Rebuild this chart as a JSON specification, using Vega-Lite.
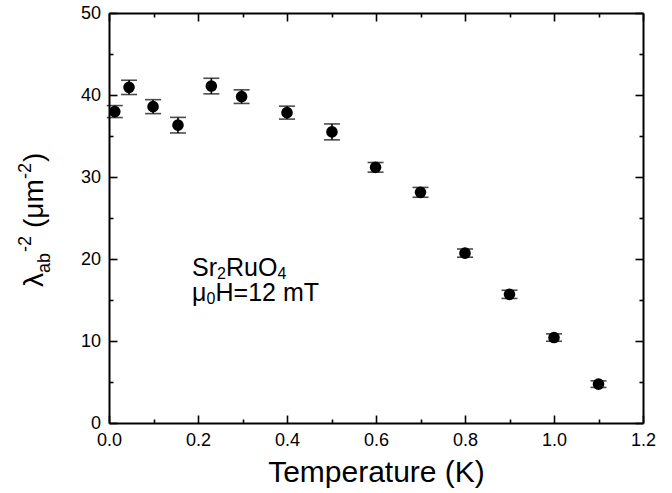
{
  "$schema": "https://vega.github.io/schema/vega-lite/v6.json",
  "width": 534,
  "height": 410,
  "autosize": {"type": "none"},
  "padding": {"left": 109, "top": 13, "right": 29, "bottom": 70},
  "background": "white",
  "config": {
    "view": {"stroke": null},
    "font": "Liberation Sans",
    "axis": {
      "domainColor": "black", "domainWidth": 2,
      "tickColor": "black", "tickWidth": 1.6,
      "labelColor": "black", "labelFont": "Liberation Sans", "labelFontSize": 18,
      "titleFont": "Liberation Sans", "titleColor": "black",
      "grid": false, "labelFlush": false, "labelOverlap": false
    }
  },
  "data": {"values": [
    {"T": 0.013, "v": 37.98, "e": 0.73},
    {"T": 0.045, "v": 40.93, "e": 0.87},
    {"T": 0.099, "v": 38.58, "e": 0.85},
    {"T": 0.155, "v": 36.32, "e": 0.95},
    {"T": 0.230, "v": 41.09, "e": 0.95},
    {"T": 0.298, "v": 39.80, "e": 0.83},
    {"T": 0.400, "v": 37.85, "e": 0.79},
    {"T": 0.501, "v": 35.50, "e": 0.97},
    {"T": 0.599, "v": 31.18, "e": 0.59},
    {"T": 0.700, "v": 28.13, "e": 0.60},
    {"T": 0.800, "v": 20.72, "e": 0.50},
    {"T": 0.900, "v": 15.69, "e": 0.50},
    {"T": 1.000, "v": 10.42, "e": 0.45},
    {"T": 1.100, "v": 4.74, "e": 0.40}
  ]},
  "layer": [
    {
      "mark": {"type": "errorbar", "color": "black", "ticks": {"size": 16, "thickness": 1.6, "color": "black"}, "rule": {"strokeWidth": 1.6}},
      "encoding": {
        "x": {"field": "T", "type": "quantitative",
          "scale": {"domain": [0, 1.2], "nice": false, "zero": false},
          "axis": {"orient": "bottom",
            "values": [0, 0.1, 0.2, 0.3, 0.4, 0.5, 0.6, 0.7, 0.8, 0.9, 1, 1.1, 1.2],
            "labelExpr": "round(datum.value*10) % 2 == 0 ? format(datum.value, '.1f') : ''",
            "tickSize": {"condition": {"test": "round(datum.value*10) % 2 == 0", "value": -8}, "value": -4},
            "labelPadding": 16,
            "title": "Temperature (K)", "titleFontSize": 30, "titleFontWeight": "normal",
            "titleBaseline": "alphabetic", "titleY": 58.7}},
        "y": {"field": "v", "type": "quantitative",
          "scale": {"domain": [0, 50], "nice": false},
          "axis": {"orient": "left",
            "values": [0, 5, 10, 15, 20, 25, 30, 35, 40, 45, 50],
            "labelExpr": "datum.value % 10 == 0 ? format(datum.value, 'd') : ''",
            "tickSize": {"condition": {"test": "datum.value % 10 == 0", "value": -8}, "value": -4},
            "labelPadding": 16.5,
            "title": null}},
        "yError": {"field": "e"}
      }
    },
    {
      "mark": {"type": "circle", "size": 135, "color": "black", "opacity": 1},
      "encoding": {
        "x": {"field": "T", "type": "quantitative",
          "axis": {"orient": "top",
            "values": [0, 0.1, 0.2, 0.3, 0.4, 0.5, 0.6, 0.7, 0.8, 0.9, 1, 1.1, 1.2],
            "labels": false, "title": null,
            "tickSize": {"condition": {"test": "round(datum.value*10) % 2 == 0", "value": -8}, "value": -4}}},
        "y": {"field": "v", "type": "quantitative",
          "axis": {"orient": "right",
            "values": [0, 5, 10, 15, 20, 25, 30, 35, 40, 45, 50],
            "labels": false, "title": null,
            "tickSize": {"condition": {"test": "datum.value % 10 == 0", "value": -8}, "value": -4}}}
      }
    },
    {
      "data": {"values": [{}]},
      "encoding": {
        "x": {"datum": -0.1483, "type": "quantitative", "axis": null},
        "y": {"datum": 16.585, "type": "quantitative", "axis": null}
      },
      "layer": [
        {"mark": {"type": "text", "text": "λ", "angle": 270, "align": "left", "baseline": "alphabetic", "fontSize": 28, "color": "black", "font": "Liberation Sans"}},
        {"mark": {"type": "text", "text": "ab", "angle": 270, "align": "left", "baseline": "alphabetic", "fontSize": 18, "dx": 14, "dy": 7, "color": "black", "font": "Liberation Sans"}},
        {"mark": {"type": "text", "text": "-2", "angle": 270, "align": "left", "baseline": "alphabetic", "fontSize": 18, "dx": 35, "dy": -12, "color": "black", "font": "Liberation Sans"}},
        {"mark": {"type": "text", "text": "(μm", "angle": 270, "align": "left", "baseline": "alphabetic", "fontSize": 28, "dx": 59, "color": "black", "font": "Liberation Sans"}},
        {"mark": {"type": "text", "text": "-2", "angle": 270, "align": "left", "baseline": "alphabetic", "fontSize": 18, "dx": 108, "dy": -12, "color": "black", "font": "Liberation Sans"}},
        {"mark": {"type": "text", "text": ")", "angle": 270, "align": "left", "baseline": "alphabetic", "fontSize": 28, "dx": 125, "color": "black", "font": "Liberation Sans"}}
      ]
    },
    {
      "data": {"values": [{}]},
      "encoding": {
        "x": {"datum": 0.1865, "type": "quantitative", "axis": null},
        "y": {"datum": 17.9, "type": "quantitative", "axis": null}
      },
      "layer": [
        {"mark": {"type": "text", "text": "Sr", "align": "left", "baseline": "alphabetic", "fontSize": 25, "color": "black", "font": "Liberation Sans"}},
        {"mark": {"type": "text", "text": "2", "align": "left", "baseline": "alphabetic", "fontSize": 16, "dx": 25, "dy": 3, "color": "black", "font": "Liberation Sans"}},
        {"mark": {"type": "text", "text": "RuO", "align": "left", "baseline": "alphabetic", "fontSize": 25, "dx": 34, "color": "black", "font": "Liberation Sans"}},
        {"mark": {"type": "text", "text": "4", "align": "left", "baseline": "alphabetic", "fontSize": 16, "dx": 85.5, "dy": 3, "color": "black", "font": "Liberation Sans"}}
      ]
    },
    {
      "data": {"values": [{}]},
      "encoding": {
        "x": {"datum": 0.1865, "type": "quantitative", "axis": null},
        "y": {"datum": 14.9, "type": "quantitative", "axis": null}
      },
      "layer": [
        {"mark": {"type": "text", "text": "μ", "align": "left", "baseline": "alphabetic", "fontSize": 25, "color": "black", "font": "Liberation Sans"}},
        {"mark": {"type": "text", "text": "0", "align": "left", "baseline": "alphabetic", "fontSize": 16, "dx": 14.5, "dy": 3, "color": "black", "font": "Liberation Sans"}},
        {"mark": {"type": "text", "text": "H=12 mT", "align": "left", "baseline": "alphabetic", "fontSize": 25, "dx": 23.5, "color": "black", "font": "Liberation Sans"}}
      ]
    }
  ],
  "resolve": {"axis": {"x": "independent", "y": "independent"}}
}
